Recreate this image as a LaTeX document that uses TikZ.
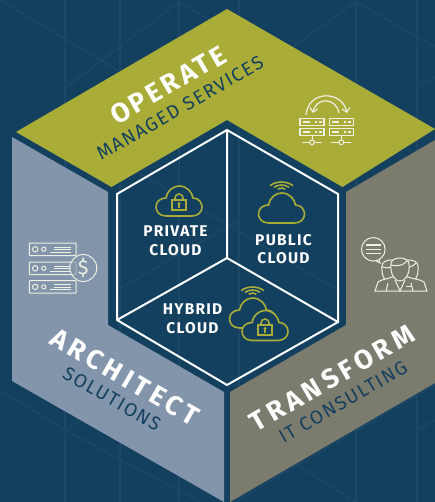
\documentclass[tikz,border=0pt]{standalone}
\usepackage{fontspec}
\setmainfont{Fira Sans}
\newfontfamily\dinfont[LetterSpace=8]{Fira Sans}
\newfontfamily\dinmid[LetterSpace=12]{Fira Sans}
\newfontfamily\dinwide[LetterSpace=16]{Fira Sans}
\usetikzlibrary{arrows.meta}
\definecolor{navy}{HTML}{14405F}
\definecolor{navyline}{HTML}{1C4767}
\definecolor{olive}{HTML}{A9AD38}
\definecolor{steel}{HTML}{8295AA}
\definecolor{stone}{HTML}{7C7C6E}
\definecolor{iconwhite}{HTML}{EEF0E4}
\tikzset{
    x=1pt, y=-1pt,
    grid/.style={navyline, line width=1.4pt},
    hexline/.style={white, line width=2pt, line join=miter},
    maintitle/.style={white, font=\dinwide\fontsize{27}{27}\selectfont\bfseries},
    subtitle/.style={navy, font=\dinfont\fontsize{19}{19}\selectfont},
    cloudtext/.style={white, align=center, font=\dinfont\fontsize{15.5}{18.5}\selectfont\bfseries},
    icon/.style={iconwhite, line width=1pt},
    cloudicon/.style={olive, line width=1.6pt},
    pics/cloud/.style={code={
        \draw[cloudicon, fill=navy] (-13,15) .. controls (-20,15) and (-23,10) .. (-23,6)
            .. controls (-23,0) and (-18,-3) .. (-13,-3)
            .. controls (-12,-10) and (-6,-15) .. (0,-15)
            .. controls (8,-15) and (13,-9) .. (14,-3)
            .. controls (20,-3) and (23,2) .. (23,6)
            .. controls (23,11) and (19,15) .. (13,15) -- cycle;
    }},
    pics/padlock/.style={code={
        \draw[cloudicon] (-7,-2) rectangle (7,8);
        \draw[cloudicon] (-4,-2) -- (-4,-4) arc[start angle=180, end angle=360, radius=4] -- (4,-2);
        \fill[olive] (0,1.5) circle (1.7);
        \fill[olive] (-1,2) rectangle (1,6);
    }},
    pics/signal/.style={code={
        \foreach \r in {4,8,12}
            \draw[cloudicon] (-\r*0.95,-\r*0.45) .. controls (-\r*0.4,-\r*0.85) and (\r*0.4,-\r*0.85) .. (\r*0.95,-\r*0.45);
    }},
    pics/rack/.style={code={
        \foreach \y in {0,10} {
            \draw[icon, line width=1.2pt] (0,\y) rectangle (24,\y+7.4);
            \draw[icon, line width=1.4pt] (3,\y+3.7) -- (10,\y+3.7);
            \draw[icon, line width=1.4pt] (15,\y+3.7) -- (17,\y+3.7) (18.5,\y+3.7) -- (21.5,\y+3.7);
        }
        \draw[icon] (12,17.4) -- (12,21.5);
        \draw[icon] (12,24) circle (2.4);
        \draw[icon] (2,24) -- (9.6,24) (14.4,24) -- (22,24);
    }},
    pics/slab/.style={code={
        \draw[icon, rounded corners=0.8pt] (0,0) rectangle (46.6,12.6);
        \draw[icon] (5.8,6.3) circle (2.7) (14.4,6.3) circle (2.1);
        \draw[icon] (25,4) -- (42,4) (25,6.5) -- (42,6.5) (21,9) -- (42,9);
    }},
    pics/person/.style={code={
        \draw[icon, fill=stone] (-9,-3) .. controls (-9,-11) and (9,-11) .. (9,-3)
            .. controls (10,8) and (5,14) .. (0,14) .. controls (-5,14) and (-10,8) .. (-9,-3) -- cycle;
        \draw[icon] (-9,-2) .. controls (-3,0) and (4,-2) .. (7,-6);
    }}
}
\begin{document}
\begin{tikzpicture}
    \useasboundingbox (0,0) rectangle (435,502);
    \fill[navy] (0,0) rectangle (435,502);
    % faint wireframe behind the panels
    \begin{scope}
        \clip (0,0) rectangle (435,502);
        \foreach \x in {65,120,179,239,356,417}
            \draw[grid] (\x,0) -- (\x,502);
        \draw[grid] (0,0) -- (120,72) (65,88) -- (179,2) -- (300,72);
        \draw[grid] (293,47) -- (356,2) -- (435,47) (417,87) -- (435,77);
        \draw[grid] (117,160) -- (338,290) (117,290) -- (239,220);
        \draw[grid] (0,390) -- (65,430) -- (130,392) (65,430) -- (200,502);
        \draw[grid] (235,502) -- (297,465) -- (356,502) (417,430) -- (435,420) (297,465) -- (435,385);
    \end{scope}
    % panels
    \fill[olive] (227,9) -- (435,129) -- (342.5,187) -- (227,120) -- (111.5,187) -- (16,132) -- cycle;
    \fill[steel] (12,137) -- (108,192) -- (108,325) -- (224,392) -- (224,502) -- (12,381) -- cycle;
    \fill[stone] (435,140) -- (346,192) -- (346,325) -- (230,392) -- (230,502) -- (435,383) -- cycle;
    % inner hexagon
    \draw[hexline] (227,130) -- (338,194) -- (338,322) -- (227,385) -- (117,320) -- (117,194) -- cycle;
    \draw[hexline] (227,130) -- (227,258) -- (338,322) (227,258) -- (117,320);
    % panel titles
    \node[maintitle, font=\dinmid\fontsize{27}{27}\selectfont\bfseries, rotate=30] (operate) at (168,85) {OPERATE};
    \node[subtitle, rotate=30] (managed) at (180,108) {MANAGED SERVICES};
    \node[maintitle, rotate=-30] (architect) at (125,377) {ARCHITECT};
    \node[subtitle, rotate=-30] (solutions) at (112,399) {SOLUTIONS};
    \node[maintitle, rotate=30] (transform) at (332,378) {TRANSFORM};
    \node[subtitle, rotate=30] (consulting) at (343,402) {IT CONSULTING};
    % cloud labels
    \node[cloudtext] (private) at (175.5,241) {PRIVATE\\CLOUD};
    \node[cloudtext] (public) at (283.5,249) {PUBLIC\\CLOUD};
    \node[cloudtext] (hybrid) at (192.5,319) {HYBRID\\CLOUD};
    % cloud icons
    \pic at (179,201) {cloud};
    \pic at (179,202) {padlock};
    \pic at (281.5,208) {cloud};
    \pic at (281.5,191) {signal};
    \pic at (252.5,313) {cloud};
    \pic at (252.5,296) {signal};
    \pic at (265,325.5) {cloud};
    \pic at (265,327) {padlock};
    % servers
    \pic at (300,118.3) {rack};
    \pic at (329.3,118.3) {rack};
    \draw[icon, line width=1.2pt, -{Straight Barb[length=4pt,width=8pt]}] (306,115) .. controls (308,90) and (342,90) .. (347,113);
    \draw[icon, line width=1.2pt, -{Straight Barb[length=4pt,width=8pt]}] (339,113) .. controls (336,97) and (316,97) .. (313,113);
    % dollar stack
    \pic at (29.4,243) {slab};
    \pic at (29.4,262) {slab};
    \pic at (29.4,280.6) {slab};
    \node[draw=iconwhite, line width=1pt, circle, fill=steel, fill opacity=0.6, text opacity=1, minimum size=27pt, inner sep=0pt, text=iconwhite, font=\fontsize{20}{20}\selectfont] (dollar) at (83.3,268) {\$};
    % consultants
    \draw[icon] (373.3,249.3) circle (11.8);
    \draw[icon] (379,260) -- (380,263) -- (376,261);
    \draw[icon, line width=1.2pt] (366,245) -- (380.7,245) (366,249.3) -- (380.7,249.3) (366,253.6) -- (380.7,253.6);
    \pic at (391,269) {person};
    \pic at (409,269) {person};
    \draw[icon, fill=stone] (375,291) -- (378,282) .. controls (382,279) and (388,279) .. (392,277) -- (408,277) .. controls (412,279) and (420,279) .. (424,282) -- (427,291) -- cycle;
    \pic at (400,267) {person};
    \draw[icon] (386,291) -- (388,283) (413,291) -- (411,283);
    \draw[icon] (395,280) -- (400,291) -- (405,280);
    \draw[icon] (406,286) -- (412,286);
\end{tikzpicture}
\end{document}
